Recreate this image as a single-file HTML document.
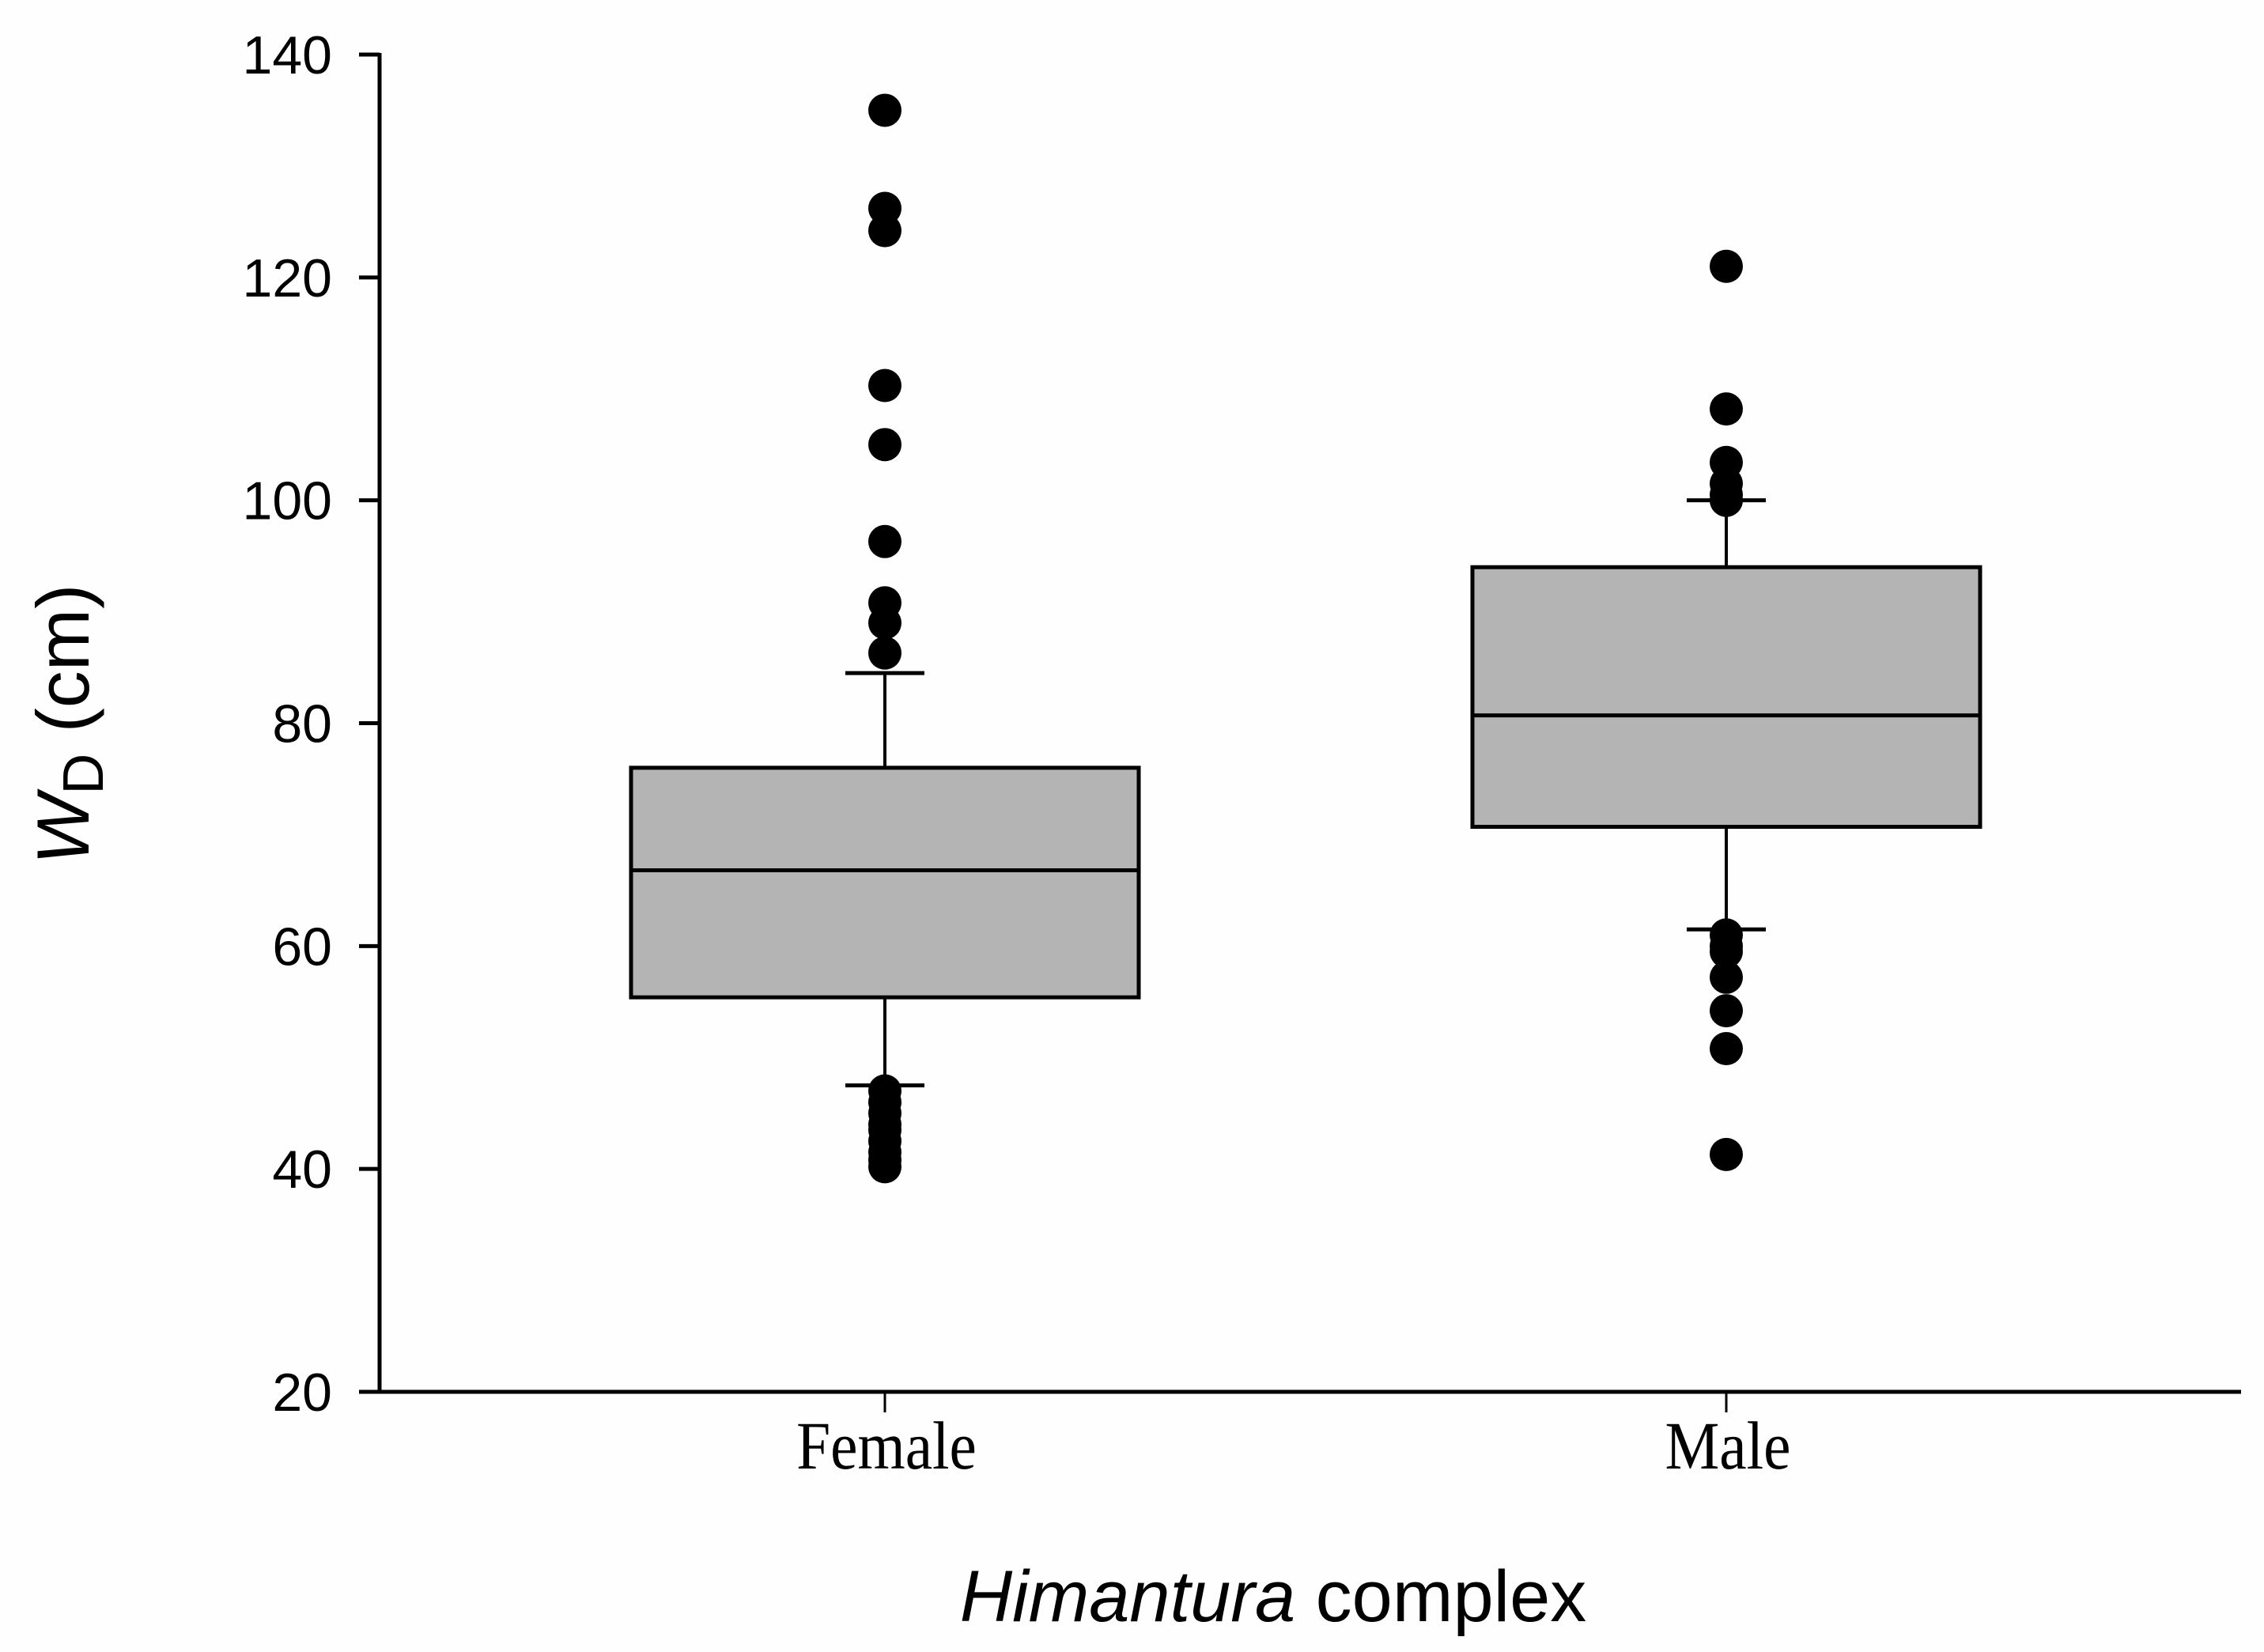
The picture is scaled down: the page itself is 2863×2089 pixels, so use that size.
<!DOCTYPE html>
<html><head><meta charset="utf-8"><style>
html,body{margin:0;padding:0;background:#fff}
svg{display:block}
</style></head><body>
<svg id="chart" width="2863" height="2089" viewBox="0 0 2863 2089" xmlns="http://www.w3.org/2000/svg">
<rect width="2863" height="2089" fill="#fefefe"/>
<g id="axes"></g>
<g id="boxes"></g>
<text x="1610" y="2050" font-family="Liberation Sans, sans-serif" font-size="92" text-anchor="middle"><tspan font-style="italic">Himantura</tspan> complex</text>
<text transform="translate(112,916) rotate(-90)" font-family="Liberation Sans, sans-serif" font-size="94" text-anchor="middle"><tspan font-style="italic">W</tspan><tspan font-size="72" dy="18">D</tspan><tspan dy="-18"> (cm)</tspan></text>
</svg>
<script>
const categories = ["Female", "Male"];
const q1 = [55.4, 70.7];
const median = [66.8, 80.7];
const q3 = [76.0, 94.0];
const whiskerLow = [47.5, 61.5];
const whiskerHigh = [84.5, 100.0];
const outliersFemale = [135, 126.2, 124.2, 110.3, 105, 96.3, 90.8, 89, 86.3, 47, 46, 45, 44, 43.5, 42.5, 41.5, 40.8, 40.2];
const outliersMale = [121, 108.2, 103.4, 101.5, 100.5, 100, 61, 60, 59.5, 57.2, 54.2, 50.8, 41.3];
const outliers = [outliersFemale, outliersMale];
const yTicks = [20, 40, 60, 80, 100, 120, 140];

const NS = "http://www.w3.org/2000/svg";
const X0 = 480, X1 = 2834, Y0 = 1760, Y1 = 69;
const yS = v => Y0 - (v - 20) / 120 * (Y0 - Y1);
const xS = i => 1119 + i * 1064;
const HW = 321;
function mk(tag, attrs, parent) {
  const e = document.createElementNS(NS, tag);
  for (const k in attrs) e.setAttribute(k, attrs[k]);
  parent.appendChild(e);
  return e;
}
const axes = document.getElementById("axes");
const boxes = document.getElementById("boxes");
let el = mk("line", {x1: X0, y1: Y1 - 2, x2: X0, y2: Y0 + 2, stroke: "#000", "stroke-width": 5}, axes);


el = mk("line", {x1: X0 - 26, y1: Y0, x2: X1, y2: Y0, stroke: "#000", "stroke-width": 5}, axes);


yTicks.forEach(t => {
  const y = yS(t);
  const tk = mk("line", {x1: X0 - 26, y1: y, x2: X0, y2: y, stroke: "#000", "stroke-width": 5}, axes);
  
  
  const tx = mk("text", {x: X0 - 60, y: y + 24, "font-family": "Liberation Sans, sans-serif", "font-size": 68, "text-anchor": "end"}, axes);
  tx.textContent = t;
  
  
});
categories.forEach((c, i) => {
  const cx = xS(i);
  const tk = mk("line", {x1: cx, y1: Y0, x2: cx, y2: Y0 + 26, stroke: "#000", "stroke-width": 3}, axes);
  
  
  const tx = mk("text", {transform: "translate(" + (cx + 2) + "," + (Y0 + 97) + ") scale(0.9,1)", "font-family": "Liberation Serif, serif", "font-size": 86, "text-anchor": "middle"}, axes);
  tx.textContent = c;
  
  

  const g = mk("g", {}, boxes);
  
  
  const w1 = mk("line", {x1: cx, y1: yS(q3[i]), x2: cx, y2: yS(whiskerHigh[i]), stroke: "#000", "stroke-width": 4}, g);
  
  
  const w2 = mk("line", {x1: cx, y1: yS(q1[i]), x2: cx, y2: yS(whiskerLow[i]), stroke: "#000", "stroke-width": 4}, g);
  
  
  const c1 = mk("line", {x1: cx - 50, y1: yS(whiskerHigh[i]), x2: cx + 50, y2: yS(whiskerHigh[i]), stroke: "#000", "stroke-width": 5}, g);
  
  
  const c2 = mk("line", {x1: cx - 50, y1: yS(whiskerLow[i]), x2: cx + 50, y2: yS(whiskerLow[i]), stroke: "#000", "stroke-width": 5}, g);
  
  
  const r = mk("rect", {x: cx - HW, y: yS(q3[i]), width: 2 * HW, height: yS(q1[i]) - yS(q3[i]), fill: "#b4b4b4", stroke: "#000", "stroke-width": 5}, g);
  
  
  const m = mk("line", {x1: cx - HW, y1: yS(median[i]), x2: cx + HW, y2: yS(median[i]), stroke: "#000", "stroke-width": 5}, g);
  
  
  outliers[i].forEach(v => {
    const d = mk("circle", {cx: cx, cy: yS(v), r: 21, fill: "#000"}, g);
    
    
  });
});
</script>
</body></html>
